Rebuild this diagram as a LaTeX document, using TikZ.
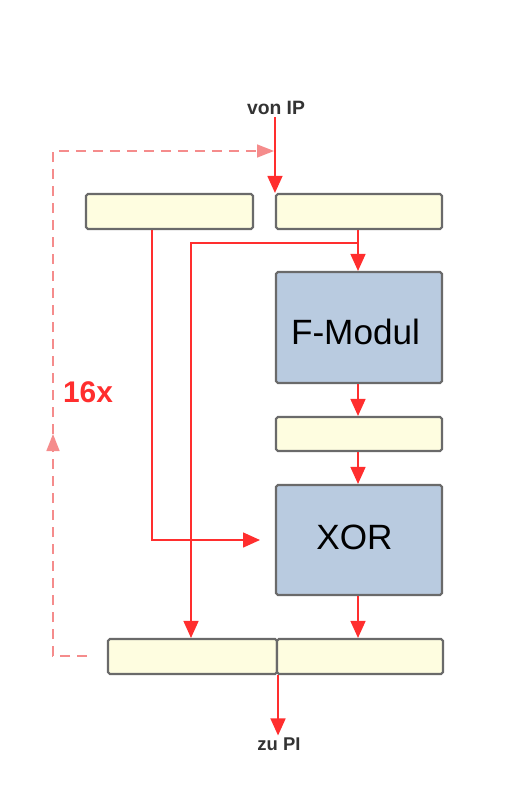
\documentclass[tikz,border=0pt]{standalone}
\usepackage{fontspec}
\setmainfont{Liberation Sans}
\usetikzlibrary{arrows.meta}
\definecolor{lnred}{HTML}{FF2E2E}
\definecolor{dashred}{HTML}{F58C8C}
\definecolor{boxy}{HTML}{FEFDE0}
\definecolor{boxb}{HTML}{B9CBE0}
\definecolor{boxline}{HTML}{6A6A6A}
\tikzset{
  ybox/.style={draw=boxline, line width=1.2pt, fill=boxy, rounded corners=1pt, inner sep=0pt, minimum height=0.7cm},
  bbox/.style={draw=boxline, line width=1.2pt, fill=boxb, rounded corners=1pt, inner sep=0pt, minimum width=3.32cm},
  boxtext/.style={font=\fontsize{20}{24}\selectfont, inner sep=0pt},
  arr/.style={draw=lnred, line width=0.85pt, -{Triangle[length=0.34cm,width=0.3cm]}, color=lnred},
  dashloop/.style={draw=dashred, line width=0.9pt, dash pattern=on 0.2cm off 0.14cm},
  dashtip/.style={-{Triangle[length=0.34cm,width=0.26cm]}},
  lbl/.style={font=\bfseries\fontsize{11}{13}\selectfont, text=black!80, inner sep=1pt}
}
\begin{document}
\begin{tikzpicture}[x=0.02cm,y=-0.02cm]
\useasboundingbox (0,0) rectangle (508,800);
% boxes
\node[ybox, minimum width=3.34cm] (lbox) at (169.5,211.5) {};
\node[ybox, minimum width=3.32cm] (rbox) at (359,211.5) {};
\node[bbox, minimum height=2.22cm] (fmod) at (359,327.5) {};
\node[ybox, minimum width=3.32cm, minimum height=0.68cm] (mbox) at (359,434) {};
\node[bbox, minimum height=2.2cm] (xor) at (359,540) {};
\node[ybox, minimum width=3.38cm] (bl) at (192.5,656.5) {};
\node[ybox, minimum width=3.32cm] (brt) at (360,656.5) {};
% box texts
\node[boxtext] (fmodtxt) at (355.5,331.5) {F-Modul};
\node[boxtext] (xortxt) at (354.5,537) {XOR};
% labels
\node[lbl] (vonip) at (276,108) {von IP};
\node[lbl, font=\bfseries\fontsize{10.5}{12}\selectfont] (zupi) at (279,744) {zu PI};
\node[font=\bfseries\fontsize{17}{20}\selectfont, text=lnred] (rounds) at (88,392) {16x};
% helper coordinates
\coordinate (lx) at (152,0);
\coordinate (rx) at (358,0);
\coordinate (bx) at (191,0);
\coordinate (br) at (358,243);
\coordinate (xin) at (260,540);
\coordinate (dstart) at (87,656);
\coordinate (dc1) at (53,656);
\coordinate (dmid) at (53,434);
\coordinate (dc2) at (53,151);
\coordinate (dend) at (274,151);
% connectors
\draw[arr] (vonip.south -| rbox.north west) -- (rbox.north west);
\draw[arr] (lbox.south -| lx) |- (xin);
\draw[arr] (rbox.south -| rx) -- (fmod.north -| rx);
\draw[arr] (br) -| (bl.north -| bx);
\draw[arr] (fmod.south -| rx) -- (mbox.north -| rx);
\draw[arr] (mbox.south -| rx) -- (xor.north -| rx);
\draw[arr] (xor.south -| rx) -- (brt.north -| rx);
\draw[arr] (bl.south east) -- (zupi.north -| bl.south east);
% dashed loop
\draw[dashloop, dashtip, color=lnred, draw=dashred] (dstart) -- (dc1) -- (dmid);
\draw[dashloop, dashtip, color=lnred, draw=dashred] (dmid) -- (dc2) -- (dend);
\end{tikzpicture}
\end{document}
